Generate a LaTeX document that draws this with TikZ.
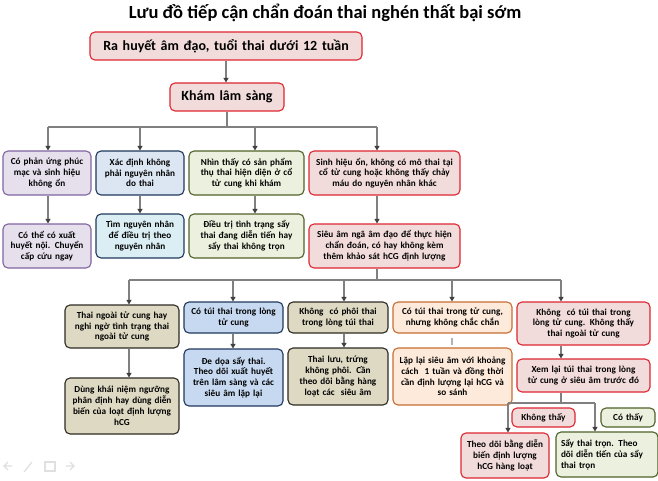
\documentclass[tikz,border=0pt]{standalone}
\usepackage{fontspec}
\setmainfont{Carlito}
\usetikzlibrary{arrows.meta,calc}
\definecolor{redB}{RGB}{222,38,48}
\definecolor{redF}{RGB}{242,220,219}
\definecolor{purB}{RGB}{128,100,162}
\definecolor{purF}{RGB}{229,224,236}
\definecolor{navB}{RGB}{31,56,92}
\definecolor{bluF}{RGB}{220,230,242}
\definecolor{cyaF}{RGB}{219,238,244}
\definecolor{bl2F}{RGB}{198,217,241}
\definecolor{grnB}{RGB}{79,98,40}
\definecolor{grnF}{RGB}{235,241,222}
\definecolor{tanB}{RGB}{45,43,35}
\definecolor{tanF}{RGB}{221,217,195}
\definecolor{orgB}{RGB}{200,110,50}
\definecolor{orgF}{RGB}{253,234,218}
\definecolor{lnC}{RGB}{128,128,128}
\tikzset{
  basebox/.style={draw, rounded corners=5pt, line width=1.1pt, inner xsep=2pt, inner ysep=1pt, align=center, font=\bfseries\fontsize{9.2}{10.8}\selectfont},
  redbox/.style={basebox, draw=redB, fill=redF},
  purbox/.style={basebox, draw=purB, fill=purF},
  blubox/.style={basebox, draw=navB, fill=bluF},
  cyabox/.style={basebox, draw=navB, fill=cyaF},
  bl2box/.style={basebox, draw=navB, fill=bl2F},
  grnbox/.style={basebox, draw=grnB, fill=grnF},
  tanbox/.style={basebox, draw=tanB, fill=tanF},
  orgbox/.style={basebox, draw=orgB, fill=orgF},
  ln/.style={draw=lnC, line width=1.1pt},
  arr/.style={ln, -{Triangle[length=4.5pt,width=5pt,color=black!75]}},
}
\newcommand\bx[7]{%
  \pgfmathsetmacro\bxw{#4-#2}\pgfmathsetmacro\bxh{#5-#3}%
  \pgfmathsetmacro\bxt{#4-#2-4}%
  \node[#6, minimum width=\bxw pt, minimum height=\bxh pt, text width=\bxt pt] (#1) at ({(#2+#4)/2},{(#3+#5)/2}) {#7};}
\begin{document}
\begin{tikzpicture}[x=1pt,y=-1pt]
\useasboundingbox[fill=white] (0,0) rectangle (658,481);
\node[font=\bfseries\fontsize{18.5}{20}\selectfont] (title) at (325,13) {Lưu đồ tiếp cận chẩn đoán thai nghén thất bại sớm};

\bx{A}{90}{32}{362}{60}{redbox,font=\bfseries\fontsize{14}{16}\selectfont}{Ra huyết âm đạo, tuổi thai dưới 12 tuần}
\bx{B}{170}{83}{284}{111}{redbox,font=\bfseries\fontsize{14}{16}\selectfont}{Khám lâm sàng}

\bx{C1}{3}{151}{91}{195}{purbox}{Có phản ứng phúc\\ mạc và sinh hiệu\\ không ổn}
\bx{C2}{96}{151}{184}{195}{blubox}{Xác định không\\ phải nguyên nhân\\ do thai}
\bx{C3}{189}{151}{304}{195}{grnbox}{Nhìn thấy có sản phẩm\\ thụ thai hiện diện ở cổ\\ tử cung khi khám}
\bx{C4}{309}{151}{460}{195}{redbox}{Sinh hiệu ổn, không có mô thai tại\\ cổ tử cung hoặc không thấy chảy\\ máu do nguyên nhân khác}

\bx{C1b}{3}{224}{91}{268}{purbox}{Có thể có xuất\\ huyết nội. Chuyển\\ cấp cứu ngay}
\bx{C2b}{96}{214}{184}{258}{cyabox}{Tìm nguyên nhân\\ để điều trị theo\\ nguyên nhân}
\bx{C3b}{189}{214}{304}{258}{grnbox}{Điều trị tình trạng sẩy\\ thai đang diễn tiến hay\\ sẩy thai không trọn}
\bx{C4b}{309}{224}{460}{268}{redbox}{Siêu âm ngã âm đạo để thực hiện\\ chẩn đoán, có hay không kèm\\ thêm khảo sát hCG định lượng}

\bx{D1}{65}{305}{179}{348}{tanbox}{Thai ngoài tử cung hay\\ nghi ngờ tình trạng thai\\ ngoài tử cung}
\bx{D2}{184}{302}{283}{333}{bl2box}{Có túi thai trong lòng\\ tử cung}
\bx{D3}{288}{302}{388}{333}{tanbox}{Không \ có phôi thai\\ trong lòng túi thai}
\bx{D4}{393}{302}{512}{333}{orgbox}{Có túi thai trong tử cung,\\ nhưng không chắc chắn}
\bx{D5}{517}{302}{650}{345}{redbox}{Không \ có túi thai trong\\ lòng tử cung. Không thấy\\ thai ngoài tử cung}

\bx{D1b}{65}{378}{179}{434}{tanbox}{Dùng khái niệm ngưỡng\\ phân định hay dùng diễn\\ biến của loạt định lượng\\ hCG}
\bx{D2b}{184}{349}{283}{406}{bl2box}{Đe dọa sẩy thai.\\ Theo dõi xuất huyết\\ trên lâm sàng và các\\ siêu âm lặp lại}
\bx{D3b}{288}{348}{388}{405}{tanbox}{Thai lưu, trứng\\ không phôi. Cần\\ theo dõi bằng hàng\\ loạt các \ siêu âm}
\bx{D4b}{393}{348}{512}{405}{orgbox}{Lặp lại siêu âm với khoảng\\ cách \ 1 tuần và đồng thời\\ cần định lượng lại hCG và\\ so sánh}
\bx{D5b}{517}{359}{650}{392}{redbox}{Xem lại túi thai trong lòng\\ tử cung ở siêu âm trước đó}

\bx{Lk}{512}{408}{575}{427}{redbox}{Không thấy}
\bx{Lc}{601}{408}{655}{427}{grnbox}{Có thấy}
\bx{E1}{461}{433}{549}{478}{redbox}{Theo dõi bằng diễn\\ biến định lượng\\ hCG hàng loạt}
\bx{E2}{559}{432}{655}{477}{grnbox,align=left,inner xsep=5pt}{Sẩy thai trọn. Theo\\ dõi diễn tiến của sẩy\\ thai trọn}

% helper coordinates
\coordinate (bus1) at (0,127);
\coordinate (bus2) at (0,280);
\coordinate (bus3) at (0,403);
\path ([xshift=1pt]C1.north) coordinate (c1n) ([xshift=1pt]C1.south) coordinate (c1s);
\path ([xshift=8.5pt]C3.north) coordinate (c3n) ([xshift=8.5pt]C3.south) coordinate (c3s);
\path ([xshift=-7.5pt]C4.north) coordinate (c4n) ([xshift=-7.5pt]C4.south) coordinate (c4s);
\path ([xshift=-7.5pt]C4b.north) coordinate (c4bn) ([xshift=-7.5pt]C4b.south) coordinate (c4bs);
\path ([xshift=7pt]D1.north) coordinate (d1n) ([xshift=7pt]D1.south) coordinate (d1s) ([xshift=7pt]D1b.north) coordinate (d1bn);
\path ([xshift=-0.5pt]D2.north) coordinate (d2n) ([xshift=-0.5pt]D2.south) coordinate (d2s);
\path ([xshift=6pt]D3.north) coordinate (d3n) ([xshift=6pt]D3.south) coordinate (d3s);
\path ([xshift=-0.5pt]D4.north) coordinate (d4n) ([xshift=-0.5pt]D4.south) coordinate (d4s);
\path ([xshift=-22.5pt]D5.north) coordinate (d5n) ([xshift=-22.5pt]D5.south) coordinate (d5s);
\path ([xshift=-22.5pt]D5b.north) coordinate (d5bn) ([xshift=-22.5pt]D5b.south) coordinate (d5bs);
\path ([xshift=3pt]E1.north) coordinate (e1n);
\path ([xshift=-12pt]E2.north) coordinate (e2n);

% connectors
\draw[arr] (A.south) -- (A.south |- B.north);
\draw[ln] (B.south) -- (B.south |- bus1);
\draw[ln] (c1n |- bus1) -- (c4n |- bus1);
\draw[arr] (c1n |- bus1) -- (c1n);
\draw[arr] (C2.north |- bus1) -- (C2.north);
\draw[arr] (c3n |- bus1) -- (c3n);
\draw[arr] (c4n |- bus1) -- (c4n);

\draw[arr] (c1s) -- (c1s |- C1b.north);
\draw[arr] (C2.south) -- (C2b.north);
\draw[arr] (c3s) -- (c3s |- C3b.north);
\draw[arr] (c4s) -- (c4bn);

\draw[ln] (c4bs) -- (c4bs |- bus2);
\draw[ln] (d1n |- bus2) -- (d5n |- bus2);
\draw[arr] (d1n |- bus2) -- (d1n);
\draw[arr] (d2n |- bus2) -- (d2n);
\draw[arr] (d3n |- bus2) -- (d3n);
\draw[arr] (d4n |- bus2) -- (d4n);
\draw[arr] (d5n |- bus2) -- (d5n);

\draw[arr] (d1s) -- (d1bn);
\draw[arr] (d2s) -- (d2s |- D2b.north);
\draw[arr] (d3s) -- (d3s |- D3b.north);
\draw[draw=lnC!60, line width=1.1pt] ([yshift=-4pt]d4s) -- ([yshift=2pt]d4s |- D4b.north);
\draw[arr] (d5s) -- (d5bn);

\draw[ln] (d5bs) -- (d5bs |- bus3);
\draw[ln] (e1n |- bus3) -- (e2n |- bus3);
\draw[arr] (e1n |- bus3) -- (e1n);
\draw[arr] (e2n |- bus3) -- (e2n);

% faint slide controls
\begin{scope}[black!12, line width=1.2pt]
  \draw (12,466) -- (4,466) (8,462) -- (4,466) -- (8,470);
  \draw (24,472) -- (32,462);
  \draw (45,462) rectangle (55,471);
  \draw (66,466) -- (74,466) (70,462) -- (74,466) -- (70,470);
\end{scope}
\end{tikzpicture}
\end{document}
